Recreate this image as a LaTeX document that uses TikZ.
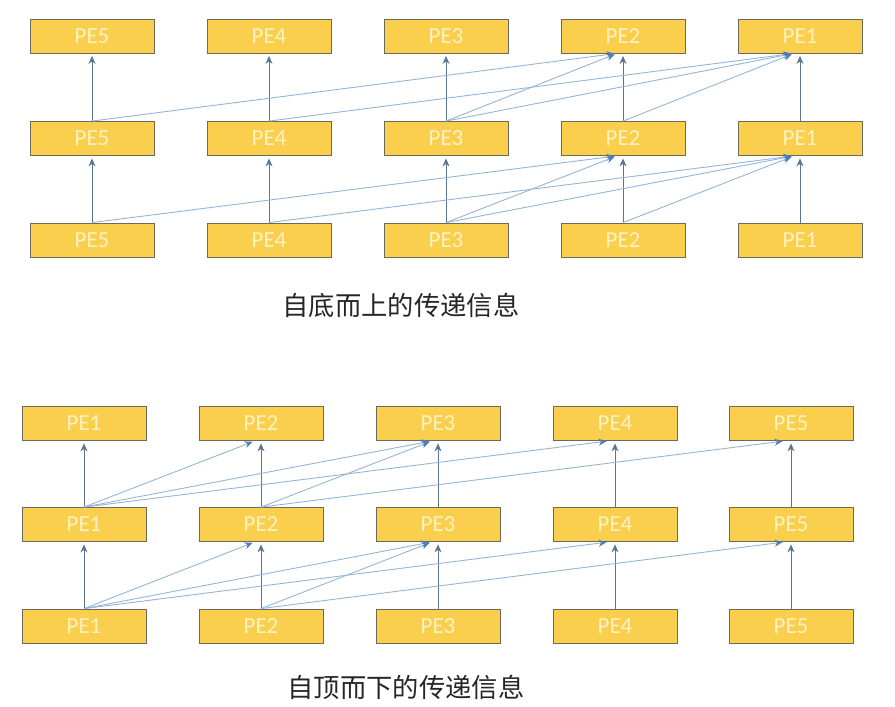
\documentclass[tikz,border=0pt]{standalone}
\usepackage{fontspec}
\setmainfont{Carlito}
\newfontfamily\cjk{Noto Sans CJK SC}
\usetikzlibrary{arrows.meta}
\definecolor{boxfill}{HTML}{F9CF4D}
\definecolor{boxline}{HTML}{6E6A5A}
\definecolor{boxtext}{HTML}{FFF2C2}
\definecolor{vline}{HTML}{5B7595}
\definecolor{dline}{HTML}{95B5D6}
\definecolor{dhead}{HTML}{4F7FB8}
\tikzset{
  pebox/.style={draw=boxline, line width=0.8pt, fill=boxfill, minimum width=124pt, minimum height=34pt, inner sep=0pt, text=boxtext, font=\fontsize{23}{23}\selectfont},
  vedge/.style={draw=vline, line width=0.9pt, -{Stealth[length=8pt,width=7pt,inset=2.5pt]}, shorten >=2.5pt},
  dedge/.style={draw=dline, line width=0.9pt, -{Stealth[length=8pt,width=7pt,inset=2.5pt,color=dhead]}, shorten >=2.5pt},
  caption/.style={font=\cjk\fontsize{26.3}{26.3}\selectfont, text=black!85, inner sep=0pt}
}
\begin{document}
\begin{tikzpicture}[x=1pt,y=-1pt]
\useasboundingbox (0,0) rectangle (895,707);
% ---------- top section: bottom-up ----------
\foreach \c/\x/\l in {1/92/PE5,2/269/PE4,3/446/PE3,4/623/PE2,5/800/PE1}{
  \node[pebox] (ta\c) at (\x,36) {\l};
  \node[pebox] (tb\c) at (\x,138.5) {\l};
  \node[pebox] (tc\c) at (\x,240) {\l};
}
\foreach \c in {1,...,5}{
  \draw[vedge] (tc\c.north) -- (tb\c.south);
  \draw[vedge] (tb\c.north) -- (ta\c.south);
}
\foreach \s/\t in {1/4,2/5,3/4,3/5,4/5}{
  \draw[dedge] (tc\s.north) -- ([xshift=-6pt]tb\t.south);
  \draw[dedge] (tb\s.north) -- ([xshift=-6pt]ta\t.south);
}
\node[caption] (cap1) at (401,305) {自底而上的传递信息};
% ---------- bottom section: top-down ----------
\foreach \c/\x/\l in {1/84/PE1,2/261/PE2,3/438/PE3,4/615/PE4,5/791/PE5}{
  \node[pebox] (ba\c) at (\x,423.5) {\l};
  \node[pebox] (bb\c) at (\x,524.5) {\l};
  \node[pebox] (bc\c) at (\x,626) {\l};
}
\foreach \c in {1,...,5}{
  \draw[vedge] (bc\c.north) -- (bb\c.south);
  \draw[vedge] (bb\c.north) -- (ba\c.south);
}
\foreach \s/\t in {1/2,1/3,1/4,2/3,2/5}{
  \draw[dedge] (bc\s.north) -- ([xshift=-6pt]bb\t.south);
  \draw[dedge] (bb\s.north) -- ([xshift=-6pt]ba\t.south);
}
\node[caption] (cap2) at (406,687) {自顶而下的传递信息};
\end{tikzpicture}
\end{document}
